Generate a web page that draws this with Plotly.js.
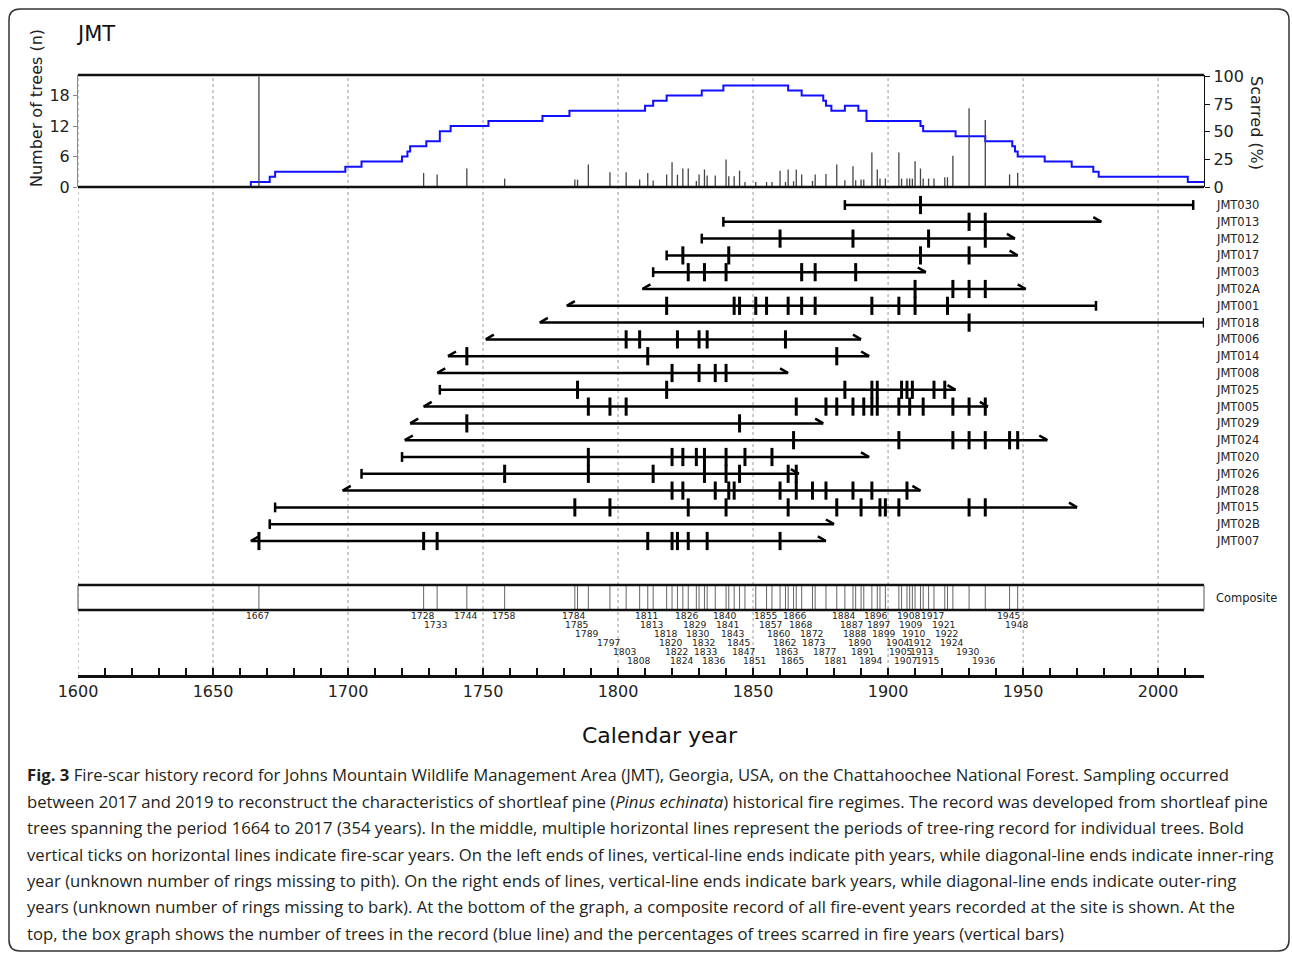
<!DOCTYPE html>
<html><head><meta charset="utf-8">
<script src="https://cdn.plot.ly/plotly-3.0.1.min.js"></script>
<style>html,body{margin:0;padding:0;background:#fff}</style>
</head><body>
<div id="chart" style="width:1292px;height:954px"></div>
<script>
// ---------------- DATA ----------------
const treeIds = ['JMT030','JMT013','JMT012','JMT017','JMT003','JMT02A','JMT001','JMT018','JMT006','JMT014','JMT008',
                 'JMT025','JMT005','JMT029','JMT024','JMT020','JMT026','JMT028','JMT015','JMT02B','JMT007'];
const treeStart = [1884,1839,1831,1818,1813,1809,1781,1771,1751,1737,1733,1734,1728,1723,1721,1720,1705,1698,1673,1671,1664];
const treeStartType = ['pith','pith','pith','pith','pith','inner','inner','inner','inner','inner','inner',
                       'pith','inner','inner','inner','pith','pith','inner','pith','pith','inner'];
const treeEnd = [2013,1979,1947,1948,1914,1951,1977,2017,1890,1893,1863,1925,1937,1876,1959,1893,1867,1912,1970,1880,1877];
const treeEndType = ['bark','outer','outer','outer','outer','outer','bark','bark','outer','outer','outer',
                     'outer','outer','outer','outer','outer','outer','outer','outer','outer','outer'];
const treeScars = [
  [1912],
  [1930,1936],
  [1860,1887,1915,1936],
  [1824,1841,1912,1930],
  [1826,1832,1840,1868,1873,1888],
  [1910,1924,1930,1936],
  [1818,1843,1845,1851,1855,1863,1868,1873,1894,1904,1910,1922],
  [1930],
  [1803,1808,1822,1830,1833,1862],
  [1744,1811,1881],
  [1820,1830,1836,1840],
  [1785,1818,1884,1894,1896,1905,1907,1909,1917,1921],
  [1789,1797,1803,1866,1877,1881,1887,1891,1894,1896,1904,1908,1913,1924,1930,1936],
  [1744,1845],
  [1865,1904,1924,1930,1936,1945,1948],
  [1789,1820,1824,1829,1832,1840,1847,1857],
  [1758,1789,1813,1832,1840,1845,1863,1866],
  [1820,1824,1836,1841,1843,1860,1866,1872,1877,1887,1894,1907],
  [1784,1797,1826,1840,1863,1881,1890,1897,1899,1904,1930,1936],
  [],
  [1667,1728,1733,1811,1820,1822,1826,1833,1860]
];
const depthYears = [1664,1664,1671,1673,1699,1705,1720,1722,1723,1729,1734,1738,1752,1772,1782,1810,1813,1818,1831,1839,
                    1863,1868,1876,1877,1879,1884,1889,1892,1912,1913,1925,1936,1946,1947,1948,1958,1968,1976,1978,2011,2017];
const depthTrees = [0,1,2,3,4,5,6,7,8,9,11,12,13,14,15,16,17,18,19,20,
                    19,18,17,16,15,16,15,13,12,11,10,9,8,7,6,5,4,3,2,1,1];
const compositeYears = [1667,1728,1733,1744,1758,1784,1785,1789,1797,1803,1808,1811,1813,1818,1820,1822,1824,1826,1829,1830,
  1832,1833,1836,1840,1841,1843,1845,1847,1851,1855,1857,1860,1862,1863,1865,1866,1868,1872,1873,1877,1881,1884,1887,1888,
  1890,1891,1894,1896,1897,1899,1904,1905,1907,1908,1909,1910,1912,1913,1915,1917,1921,1922,1924,1930,1936,1945,1948];
const scarredPct = [100,12.7,11.2,16.7,7.6,6.7,6.7,20.3,13.3,13.3,6.7,12.7,5.8,11.2,22.4,11.2,16.7,16.7,5.5,11.2,
  15.8,10.3,10.3,24.8,9.7,9.7,14.8,4.5,4.5,4.5,4.5,14.8,4.5,15.8,5.2,15.8,11.2,5.5,11.2,11.8,20.3,6.1,18.8,6.1,
  6.7,6.7,31.2,15.8,7.6,7.6,31.2,7.6,7.6,7.6,7.6,23.3,16.7,7.6,7.6,7.6,8.8,8.8,28.2,71.2,60.6,11.5,13];
const xTickYears = [1600,1650,1700,1750,1800,1850,1900,1950,2000];
const leftTicks = [0,6,12,18];
const rightTicks = [0,25,50,75,100];
const captionLines = [
  '<b>Fig. 3</b> Fire-scar history record for Johns Mountain Wildlife Management Area (JMT), Georgia, USA, on the Chattahoochee National Forest. Sampling occurred',
  'between 2017 and 2019 to reconstruct the characteristics of shortleaf pine (<i>Pinus echinata</i>) historical fire regimes. The record was developed from shortleaf pine',
  'trees spanning the period 1664 to 2017 (354 years). In the middle, multiple horizontal lines represent the periods of tree-ring record for individual trees. Bold',
  'vertical ticks on horizontal lines indicate fire-scar years. On the left ends of lines, vertical-line ends indicate pith years, while diagonal-line ends indicate inner-ring',
  'year (unknown number of rings missing to pith). On the right ends of lines, vertical-line ends indicate bark years, while diagonal-line ends indicate outer-ring',
  'years (unknown number of rings missing to bark). At the bottom of the graph, a composite record of all fire-event years recorded at the site is shown. At the',
  'top, the box graph shows the number of trees in the record (blue line) and the percentages of trees scarred in fire years (vertical bars)'
];

// ---------------- LAYOUT HELPERS ----------------
const W = 1292, H = 954, ML = 78, MR = 88, MT = 75, MB = 279;
const PW = W - ML - MR, PH = H - MT - MB;
const PX = px => (px - ML) / PW;
const PY = py => (H - MB - py) / PH;
const ROW0 = 205, ROWSTEP = 16.8;
const rowOfPx = py => (py - ROW0) / ROWSTEP;
const topSplit = PY(187);
const compTop = rowOfPx(585), compBot = rowOfPx(610), compMid = rowOfPx(598);
const FONT = 'DejaVu Sans, Verdana, sans-serif';
const D = 3, HH = 0.28;

// ---------------- TRACES ----------------
const traces = [];
traces.push({x: depthYears, y: depthTrees, xaxis: 'x', yaxis: 'y2', mode: 'lines',
  line: {shape: 'hv', color: '#1010ff', width: 2}, hoverinfo: 'skip'});
const bx = [], by = [];
compositeYears.forEach((yr, k) => { bx.push(yr, yr, null); by.push(0, scarredPct[k], null); });
traces.push({x: bx, y: by, xaxis: 'x', yaxis: 'y3', mode: 'lines', line: {color: '#444', width: 1.3}, hoverinfo: 'skip'});

const lx = [], ly = [], vx = [], vy = [], dx = [], dy = [], sx = [], sy = [];
treeIds.forEach((id, i) => {
  lx.push(treeStart[i], treeEnd[i], null); ly.push(i, i, null);
  if (treeStartType[i] === 'pith') { vx.push(treeStart[i]); vy.push(i); }
  else { dx.push(treeStart[i], treeStart[i] + D, null); dy.push(i, i - HH, null); }
  if (treeEndType[i] === 'bark') { vx.push(treeEnd[i]); vy.push(i); }
  else { dx.push(treeEnd[i], treeEnd[i] - D, null); dy.push(i, i - HH, null); }
  treeScars[i].forEach(s => { sx.push(s); sy.push(i); });
});
traces.push({x: lx, y: ly, mode: 'lines', line: {color: '#000', width: 2.5}, hoverinfo: 'skip'});
traces.push({x: dx, y: dy, mode: 'lines', line: {color: '#000', width: 2.5}, hoverinfo: 'skip'});
traces.push({x: vx, y: vy, mode: 'markers', marker: {symbol: 'line-ns', size: 7, line: {width: 2.5, color: '#000'}}, hoverinfo: 'skip'});
traces.push({x: sx, y: sy, mode: 'markers', marker: {symbol: 'line-ns', size: 13, line: {width: 3, color: '#000'}}, hoverinfo: 'skip'});

const cx = [], cy = [];
compositeYears.forEach(yr => { cx.push(yr, yr, null); cy.push(compTop, compBot, null); });
traces.push({x: cx, y: cy, mode: 'lines', line: {color: '#666', width: 1}, hoverinfo: 'skip'});

// ---------------- SHAPES ----------------
const shapes = [];
xTickYears.forEach(yr => shapes.push({type: 'line', xref: 'x', yref: 'paper', x0: yr, x1: yr, y0: 0, y1: 1,
  line: {color: '#999', width: 1, dash: 'dot'}, layer: 'below'}));
[1, topSplit].forEach(yv => shapes.push({type: 'line', xref: 'paper', yref: 'paper', x0: 0, x1: 1, y0: yv, y1: yv,
  line: {color: '#111', width: 2.5}}));
[compTop, compBot].forEach(yv => shapes.push({type: 'line', xref: 'paper', yref: 'y', x0: 0, x1: 1, y0: yv, y1: yv,
  line: {color: '#111', width: 2.5}}));
[0, 1].forEach(xv => shapes.push({type: 'line', xref: 'paper', yref: 'y', x0: xv, x1: xv, y0: compTop, y1: compBot,
  line: {color: '#555', width: 1}}));
(function(){
  const L = 9, R = 1289, T = 9, B = 951, r = 11;
  const p = (x, y) => PX(x).toFixed(5) + ',' + PY(y).toFixed(5);
  const path = 'M' + p(L + r, T) + ' L' + p(R - r, T) + ' Q' + p(R, T) + ' ' + p(R, T + r) +
    ' L' + p(R, B - r) + ' Q' + p(R, B) + ' ' + p(R - r, B) + ' L' + p(L + r, B) + ' Q' + p(L, B) + ' ' + p(L, B - r) +
    ' L' + p(L, T + r) + ' Q' + p(L, T) + ' ' + p(L + r, T) + ' Z';
  shapes.push({type: 'path', xref: 'paper', yref: 'paper', path: path, line: {color: '#333', width: 1.5}});
})();

// ---------------- ANNOTATIONS ----------------
const ann = [];
treeIds.forEach((id, i) => ann.push({xref: 'paper', yref: 'y', x: 1, y: i, xshift: 10, xanchor: 'left', yanchor: 'middle',
  text: id, showarrow: false, font: {family: FONT, size: 11.5, color: '#222'}}));
ann.push({xref: 'paper', yref: 'y', x: 1, y: compMid, xshift: 10, xanchor: 'left', yanchor: 'middle',
  text: 'Composite', showarrow: false, font: {family: FONT, size: 11.5, color: '#222'}});
let r = 0, prev = null;
compositeYears.forEach(yr => {
  r = (prev !== null && yr - prev < 10) ? (r + 1) % 6 : 0;
  prev = yr;
  ann.push({xref: 'x', yref: 'y', x: yr, y: rowOfPx(615 + 9 * r), xanchor: 'center', yanchor: 'middle', xshift: -1,
    text: String(yr), showarrow: false, font: {family: FONT, size: 9.2, color: '#222'}});
});
ann.push({xref: 'paper', yref: 'paper', x: PX(36), y: PY(108), textangle: -90, text: 'Number of trees (n)', showarrow: false,
  xanchor: 'center', yanchor: 'middle', font: {family: FONT, size: 16, color: '#222'}});
ann.push({xref: 'paper', yref: 'paper', x: PX(1256), y: PY(123), textangle: 90, text: 'Scarred (%)', showarrow: false,
  xanchor: 'center', yanchor: 'middle', font: {family: FONT, size: 16, color: '#222'}});
ann.push({xref: 'paper', yref: 'paper', x: PX(660), y: PY(735), text: 'Calendar year', showarrow: false,
  xanchor: 'center', yanchor: 'middle', font: {family: FONT, size: 22, color: '#111'}});
const capY = [774, 801, 827, 854, 880, 906, 933];
captionLines.forEach((t, k) => ann.push({xref: 'paper', yref: 'paper', x: PX(25), y: PY(capY[k]), xanchor: 'left', yanchor: 'middle',
  text: t, showarrow: false, align: 'left', font: {family: 'Open Sans, Noto Sans, sans-serif', size: 16.7, color: '#231f20'}}));

// ---------------- LAYOUT ----------------
const layout = {
  width: W, height: H, margin: {l: ML, r: MR, t: MT, b: MB},
  paper_bgcolor: '#fff', plot_bgcolor: 'rgba(0,0,0,0)', showlegend: false, hovermode: false,
  title: {text: 'JMT', x: 78 / W, xref: 'container', xanchor: 'left', y: 1 - 34 / H, yref: 'container', yanchor: 'middle',
    font: {family: FONT, size: 21, color: '#111'}},
  xaxis: {domain: [0, 1], range: [1600, 2017], anchor: 'y', tickmode: 'array', tickvals: xTickYears,
    ticks: 'inside', ticklen: 7, tickwidth: 1.5, tickcolor: '#111', showline: true, linewidth: 2.5, linecolor: '#111',
    minor: {tickmode: 'linear', tick0: 1600, dtick: 10, ticks: 'inside', ticklen: 7, tickwidth: 1.5, tickcolor: '#111', showgrid: false},
    showgrid: false, zeroline: false, tickfont: {family: FONT, size: 16, color: '#222'}},
  yaxis: {domain: [0, topSplit], range: [rowOfPx(675), rowOfPx(187)], visible: false, fixedrange: true},
  yaxis2: {domain: [topSplit, 1], range: [0, 22.05], anchor: 'x', tickmode: 'array', tickvals: leftTicks,
    ticks: 'outside', ticklen: 4, tickcolor: '#888', showline: true, linecolor: '#888', linewidth: 1,
    showgrid: false, zeroline: false, tickfont: {family: FONT, size: 16, color: '#222'}},
  yaxis3: {overlaying: 'y2', side: 'right', anchor: 'x', range: [0, 101.3], tickmode: 'array', tickvals: rightTicks,
    ticks: 'outside', ticklen: 5, tickcolor: '#111', showline: true, linecolor: '#111', linewidth: 1.2,
    showgrid: false, zeroline: false, tickfont: {family: FONT, size: 16, color: '#222'}},
  shapes: shapes, annotations: ann
};
Plotly.newPlot('chart', traces, layout, {staticPlot: true, displayModeBar: false});
</script>
</body></html>
